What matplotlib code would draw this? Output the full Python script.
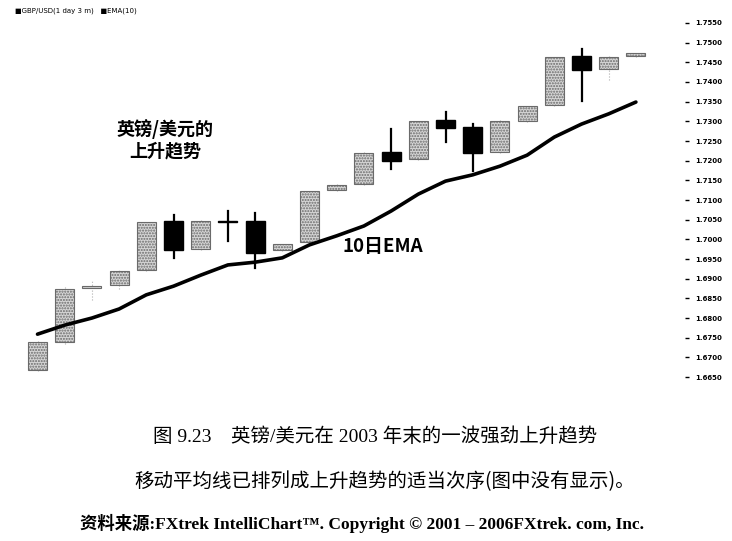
import numpy as np
import matplotlib
matplotlib.use("Agg")
import matplotlib.pyplot as plt

plt.rcParams['font.family'] = ['Noto Sans CJK SC', 'DejaVu Sans']

# GBP/USD daily candles, late 2003
opens  = [1.6668, 1.6739, 1.6877, 1.6884, 1.6922, 1.7047, 1.6976, 1.7047,
          1.7047, 1.6973, 1.6993, 1.7125, 1.7141, 1.7222, 1.7204, 1.7303,
          1.7286, 1.7222, 1.7301, 1.7342, 1.7466, 1.7433, 1.7466]
closes = [1.6739, 1.6874, 1.6881, 1.6920, 1.7044, 1.6973, 1.7047, 1.7045,
          1.6965, 1.6988, 1.7123, 1.7138, 1.7220, 1.7199, 1.7301, 1.7283,
          1.7220, 1.7301, 1.7339, 1.7464, 1.7431, 1.7464, 1.7474]
highs  = [1.6742, 1.6878, 1.6897, 1.6922, 1.7046, 1.7062, 1.7049, 1.7072,
          1.7067, 1.6990, 1.7125, 1.7140, 1.7222, 1.7281, 1.7303, 1.7324,
          1.7293, 1.7303, 1.7341, 1.7466, 1.7484, 1.7466, 1.7476]
lows   = [1.6665, 1.6735, 1.6846, 1.6875, 1.6920, 1.6953, 1.6974, 1.6996,
          1.6927, 1.6971, 1.6990, 1.7123, 1.7139, 1.7179, 1.7202, 1.7247,
          1.7174, 1.7220, 1.7299, 1.7340, 1.7352, 1.7405, 1.7464]
ema10  = [1.6759, 1.6782, 1.6800, 1.6823, 1.6859, 1.6881, 1.6909, 1.6935,
          1.6942, 1.6953, 1.6986, 1.7009, 1.7034, 1.7072, 1.7115, 1.7148,
          1.7164, 1.7186, 1.7214, 1.7260, 1.7293, 1.7319, 1.7349]

yticks = [1.6650, 1.6700, 1.6750, 1.6800, 1.6850, 1.6900, 1.6950, 1.7000,
          1.7050, 1.7100, 1.7150, 1.7200, 1.7250, 1.7300, 1.7350, 1.7400,
          1.7450, 1.7500, 1.7550]
ytick_labels = ['%.4f' % v for v in yticks]

plt.rcParams['hatch.color'] = '#5a5a5a'

fig = plt.figure(figsize=(7.32, 5.41), dpi=100)
ax = fig.add_axes([10 / 732, 151 / 541, 675 / 732, 380 / 541])

xs = np.arange(len(opens))
width = 0.7

for x, o, c, h, l in zip(xs, opens, closes, highs, lows):
    up = c >= o
    bottom = min(o, c)
    height = max(abs(c - o), 0.00015)
    if up:
        ax.plot([x, x], [l, h], color='#b0b0b0', lw=0.8, ls=':', zorder=1)
        ax.bar(x, height, width, bottom=bottom, facecolor='#d6d6d6',
               edgecolor='#6a6a6a', hatch='......', linewidth=0.8, zorder=2)
    else:
        ax.plot([x, x], [l, h], color='black', lw=1.6, zorder=1)
        ax.bar(x, height, width, bottom=bottom, facecolor='black',
               edgecolor='black', linewidth=1.0, zorder=2)

ax.plot(xs, ema10, color='black', lw=2.6, zorder=3, solid_capstyle='round')

ax.set_xlim((10 - 37.5) / 27.2, (685 - 37.5) / 27.2)
ax.set_ylim(1.66171, 1.7583)

for s in ax.spines.values():
    s.set_visible(False)
ax.set_xticks([])
ax.yaxis.tick_right()
ax.set_yticks(yticks)
ax.set_yticklabels(ytick_labels, fontsize=5, fontweight='bold',
                   family=['DejaVu Sans'])
ax.tick_params(axis='y', length=3, width=1, pad=4.5, colors='black')

# legend-like header
fig.text(15 / 732, 1 - 11 / 541, '■GBP/USD(1 day 3 m)   ■EMA(10)',
         fontsize=5, family=['DejaVu Sans'], va='center', ha='left')

# annotations
fig.text(165 / 732, 1 - 140 / 541, '英镑/美元的\n上升趋势', fontsize=13,
         fontweight='bold', va='center', ha='center', multialignment='center',
         linespacing=1.2)
fig.text(342 / 732, 1 - 247 / 541, '10日EMA', fontsize=13.5,
         fontweight='bold', va='center', ha='left')

# captions
fig.text(375 / 732, 1 - 437 / 541, '图 9.23    英镑/美元在 2003 年末的一波强劲上升趋势',
         fontsize=14, ha='center', va='center',
         family=['Liberation Serif', 'Noto Sans CJK SC'])
fig.text(385 / 732, 1 - 482 / 541, '移动平均线已排列成上升趋势的适当次序(图中没有显示)。',
         fontsize=14, ha='center', va='center',
         family=['Noto Sans CJK SC'])
fig.text(362 / 732, 1 - 523 / 541,
         '资料来源:FXtrek IntelliChart™. Copyright © 2001 – 2006FXtrek. com, Inc.',
         fontsize=12.5, ha='center', va='center', fontweight='bold',
         family=['Liberation Serif', 'Noto Sans CJK SC'])

fig.savefig('out.png', dpi=100)
